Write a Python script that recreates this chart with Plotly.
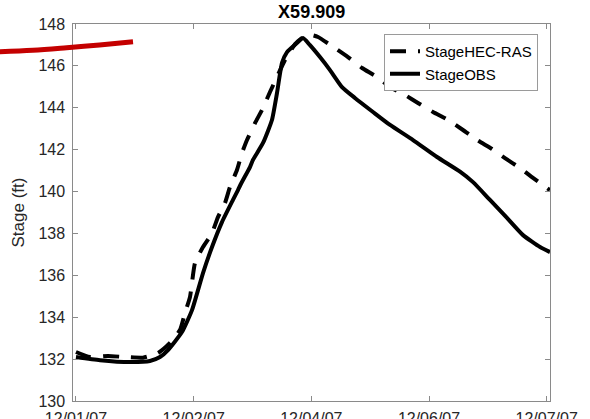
import plotly.graph_objects as go

# Stage at station X59.909, elapsed days since 12/01/07
hec_days = [0.0, 0.178, 0.408, 0.625, 0.854, 1.045, 1.198, 1.326, 1.389, 1.453,
            1.517, 1.619, 1.734, 1.810, 1.899, 1.963, 2.052, 2.116, 2.180, 2.282,
            2.384, 2.473, 2.562, 2.664, 2.792, 2.919, 3.008, 3.085, 3.302, 3.467,
            3.646, 3.837, 4.003, 4.194, 4.359, 4.551, 4.742, 4.933, 5.112, 5.303,
            5.468, 5.660, 5.825, 6.004, 6.042]
hec_stage = [132.34, 132.10, 132.15, 132.10, 132.07, 132.29, 132.77, 133.39, 134.20, 134.96,
             136.59, 137.35, 138.02, 138.78, 139.45, 140.22, 141.03, 141.84, 142.46, 143.27,
             143.99, 144.75, 145.47, 146.28, 147.04, 147.43, 147.47, 147.38, 146.85, 146.42,
             145.90, 145.47, 144.99, 144.61, 144.23, 143.80, 143.42, 142.94, 142.46, 142.03,
             141.60, 141.12, 140.65, 140.17, 140.07]

obs_days = [0.0, 0.306, 0.688, 0.943, 1.071, 1.173, 1.351, 1.479, 1.619, 1.734,
            1.861, 2.001, 2.065, 2.100, 2.218, 2.256, 2.384, 2.498, 2.562, 2.626,
            2.690, 2.817, 2.894, 2.980, 3.110, 3.238, 3.391, 3.556, 3.786, 4.003,
            4.296, 4.602, 4.895, 5.061, 5.277, 5.494, 5.698, 5.915, 6.042]
obs_stage = [132.10, 131.95, 131.86, 131.91, 132.10, 132.43, 133.29, 134.34, 136.11, 137.35,
             138.54, 139.60, 140.07, 140.35, 141.17, 141.51, 142.32, 143.42, 144.70, 146.14,
             146.66, 147.09, 147.33, 147.00, 146.42, 145.80, 144.99, 144.47, 143.80, 143.18,
             142.46, 141.65, 140.95, 140.45, 139.60, 138.74, 137.92, 137.35, 137.11]

# Red reference stage line (drawn on a full-figure overlay axis)
red_days = [-0.969, -0.55, -0.119, 0.30, 0.727]
red_stage = [146.68, 146.75, 146.87, 147.00, 147.15]

tick_vals = [0, 1.5, 3, 4.5, 6]
tick_text = ["12/01/07", "12/02/07", "12/04/07", "12/06/07", "12/07/07"]
y_ticks = list(range(130, 149, 2))

W, H = 590, 419
# plot box in pixels
left, right, top, bottom = 73.3, 550.0, 24.0, 401.0
x_range = [-0.034, 6.042]
y_range = [130, 148]

xdom = [left / W, right / W]
ydom = [(H - bottom) / H, (H - top) / H]

# overlay axis spanning the whole figure with the same data scale
sx = (x_range[1] - x_range[0]) / (right - left)
sy = (y_range[1] - y_range[0]) / (bottom - top)
x2_range = [x_range[0] - left * sx, x_range[1] + (W - right) * sx]
y2_range = [y_range[0] - (H - bottom) * sy, y_range[1] + top * sy]

FONT = "Liberation Sans, Arial, Helvetica, sans-serif"
TXT = "#262626"
AX = "#8a8a8a"

fig = go.Figure()
fig.add_trace(go.Scatter(x=hec_days, y=hec_stage, mode="lines", name="StageHEC-RAS",
                         line=dict(color="black", width=4, dash="16px,12px",
                                   shape="spline", smoothing=0.5)))
fig.add_trace(go.Scatter(x=obs_days, y=obs_stage, mode="lines", name="StageOBS",
                         line=dict(color="black", width=4, shape="spline", smoothing=0.5)))
fig.add_trace(go.Scatter(x=red_days, y=red_stage, mode="lines", showlegend=False,
                         line=dict(color="#c40000", width=5, shape="spline"),
                         xaxis="x2", yaxis="y2"))

axis_common = dict(showgrid=False, zeroline=False, ticks="inside", ticklen=5,
                   tickcolor=AX, linecolor=AX, linewidth=1, mirror="ticks",
                   showline=True, automargin=False)

fig.update_layout(
    width=W, height=H,
    margin=dict(l=0, r=0, t=0, b=0),
    paper_bgcolor="white", plot_bgcolor="rgba(0,0,0,0)",
    xaxis=dict(domain=xdom, range=x_range, tickmode="array", tickvals=tick_vals,
               ticktext=tick_text, ticklabelstandoff=3,
               tickfont=dict(family=FONT, size=16, color=TXT), **axis_common),
    yaxis=dict(domain=ydom, range=y_range, tickmode="array", tickvals=y_ticks,
               ticklabelstandoff=4,
               tickfont=dict(family=FONT, size=16, color=TXT), **axis_common),
    xaxis2=dict(domain=[0, 1], range=x2_range, visible=False, anchor="y2"),
    yaxis2=dict(domain=[0, 1], range=y2_range, visible=False, anchor="x2"),
    title=dict(text="<b>X59.909</b>", x=(left + right) / 2 / W, xanchor="center",
               y=1 - 12 / H, yanchor="middle", yref="container",
               font=dict(family=FONT, size=18, color="black")),
    legend=dict(x=538 / W, xanchor="right", y=1 - 34 / H, yanchor="top",
                bgcolor="white", bordercolor="#9a9a9a", borderwidth=1,
                font=dict(family=FONT, size=15, color="black"),
                tracegroupgap=0),
    annotations=[dict(text="Stage (ft)", textangle=-90, x=18 / W, y=(ydom[0] + ydom[1]) / 2,
                      xref="paper", yref="paper", showarrow=False,
                      xanchor="center", yanchor="middle",
                      font=dict(family=FONT, size=17, color=TXT))],
)

fig.write_html("out.html")
